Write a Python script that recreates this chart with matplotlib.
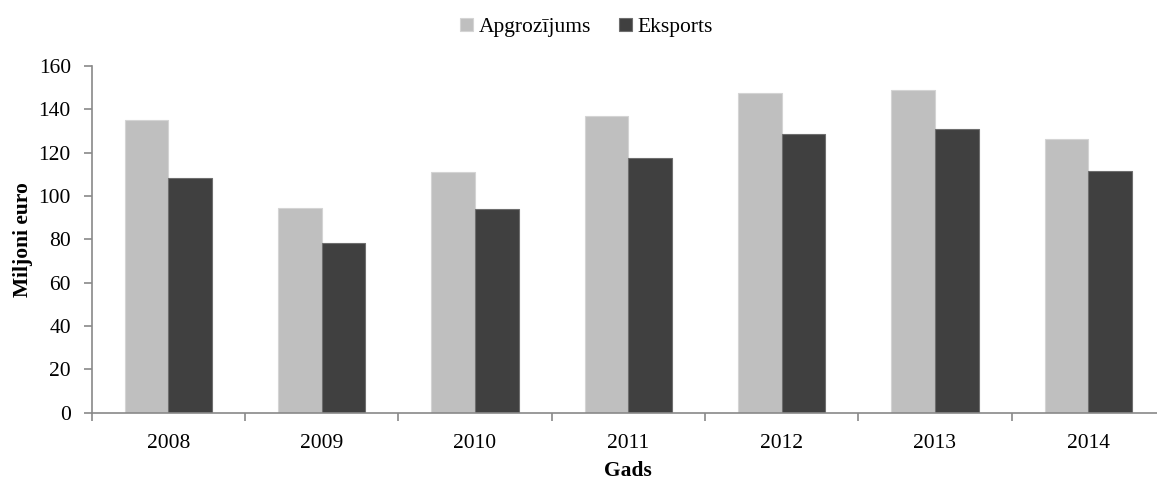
import matplotlib
matplotlib.use('Agg')
import matplotlib.pyplot as plt
import numpy as np

plt.rcParams['font.family'] = ['Liberation Serif', 'DejaVu Serif']

years = ['2008', '2009', '2010', '2011', '2012', '2013', '2014']
apgrozijums = [135, 94.6, 111.1, 136.8, 147.8, 148.9, 126.4]
eksports = [108.3, 78.2, 94.0, 117.4, 128.8, 130.8, 111.5]

axis_col = '#898989'
fs = 15.5

fig = plt.figure(figsize=(11.57, 4.79), dpi=100)
# right edge of the plot runs past the figure, like in the source
ax = fig.add_axes([0.0793, 0.1384, 0.9275, 0.7236])

x = np.arange(len(years))
w = 0.285
ax.bar(x - w / 2, apgrozijums, w, color='#bfbfbf', edgecolor='#d4d4d4',
       linewidth=0.8, label='Apgrozījums', zorder=2)
ax.bar(x + w / 2, eksports, w, color='#404040', edgecolor='#6e6e6e',
       linewidth=0.8, label='Eksports', zorder=2)

ax.set_xlim(-0.5, len(years) - 0.5)
ax.set_ylim(0, 160)
ax.set_yticks(np.arange(0, 161, 20))

# category ticks between groups, labels at centres
ax.set_xticks(np.arange(-0.5, len(years), 1.0))
ax.set_xticklabels([])
ax.set_xticks(x, minor=True)
ax.set_xticklabels(years, minor=True)
ax.tick_params(axis='x', which='major', length=6, width=1.2, color=axis_col, direction='out')
ax.tick_params(axis='x', which='minor', length=0, pad=15, labelsize=fs)
ax.tick_params(axis='y', length=6, width=1.2, color=axis_col, direction='out', pad=9, labelsize=fs)

for s in ['top', 'right']:
    ax.spines[s].set_visible(False)
for s in ['left', 'bottom']:
    ax.spines[s].set_color(axis_col)
    ax.spines[s].set_linewidth(1.2)

ax.set_ylabel('Miljoni euro', fontsize=fs, fontweight='bold', labelpad=4)
ax.set_xlabel('Gads', fontsize=fs, fontweight='bold', labelpad=6)

fig.legend(loc='center', bbox_to_anchor=(0.507, 0.943), ncol=2, frameon=False,
           fontsize=fs, handlelength=0.6, handleheight=0.6, handletextpad=0.25,
           columnspacing=1.3)

plt.savefig('out.png', dpi=100)
